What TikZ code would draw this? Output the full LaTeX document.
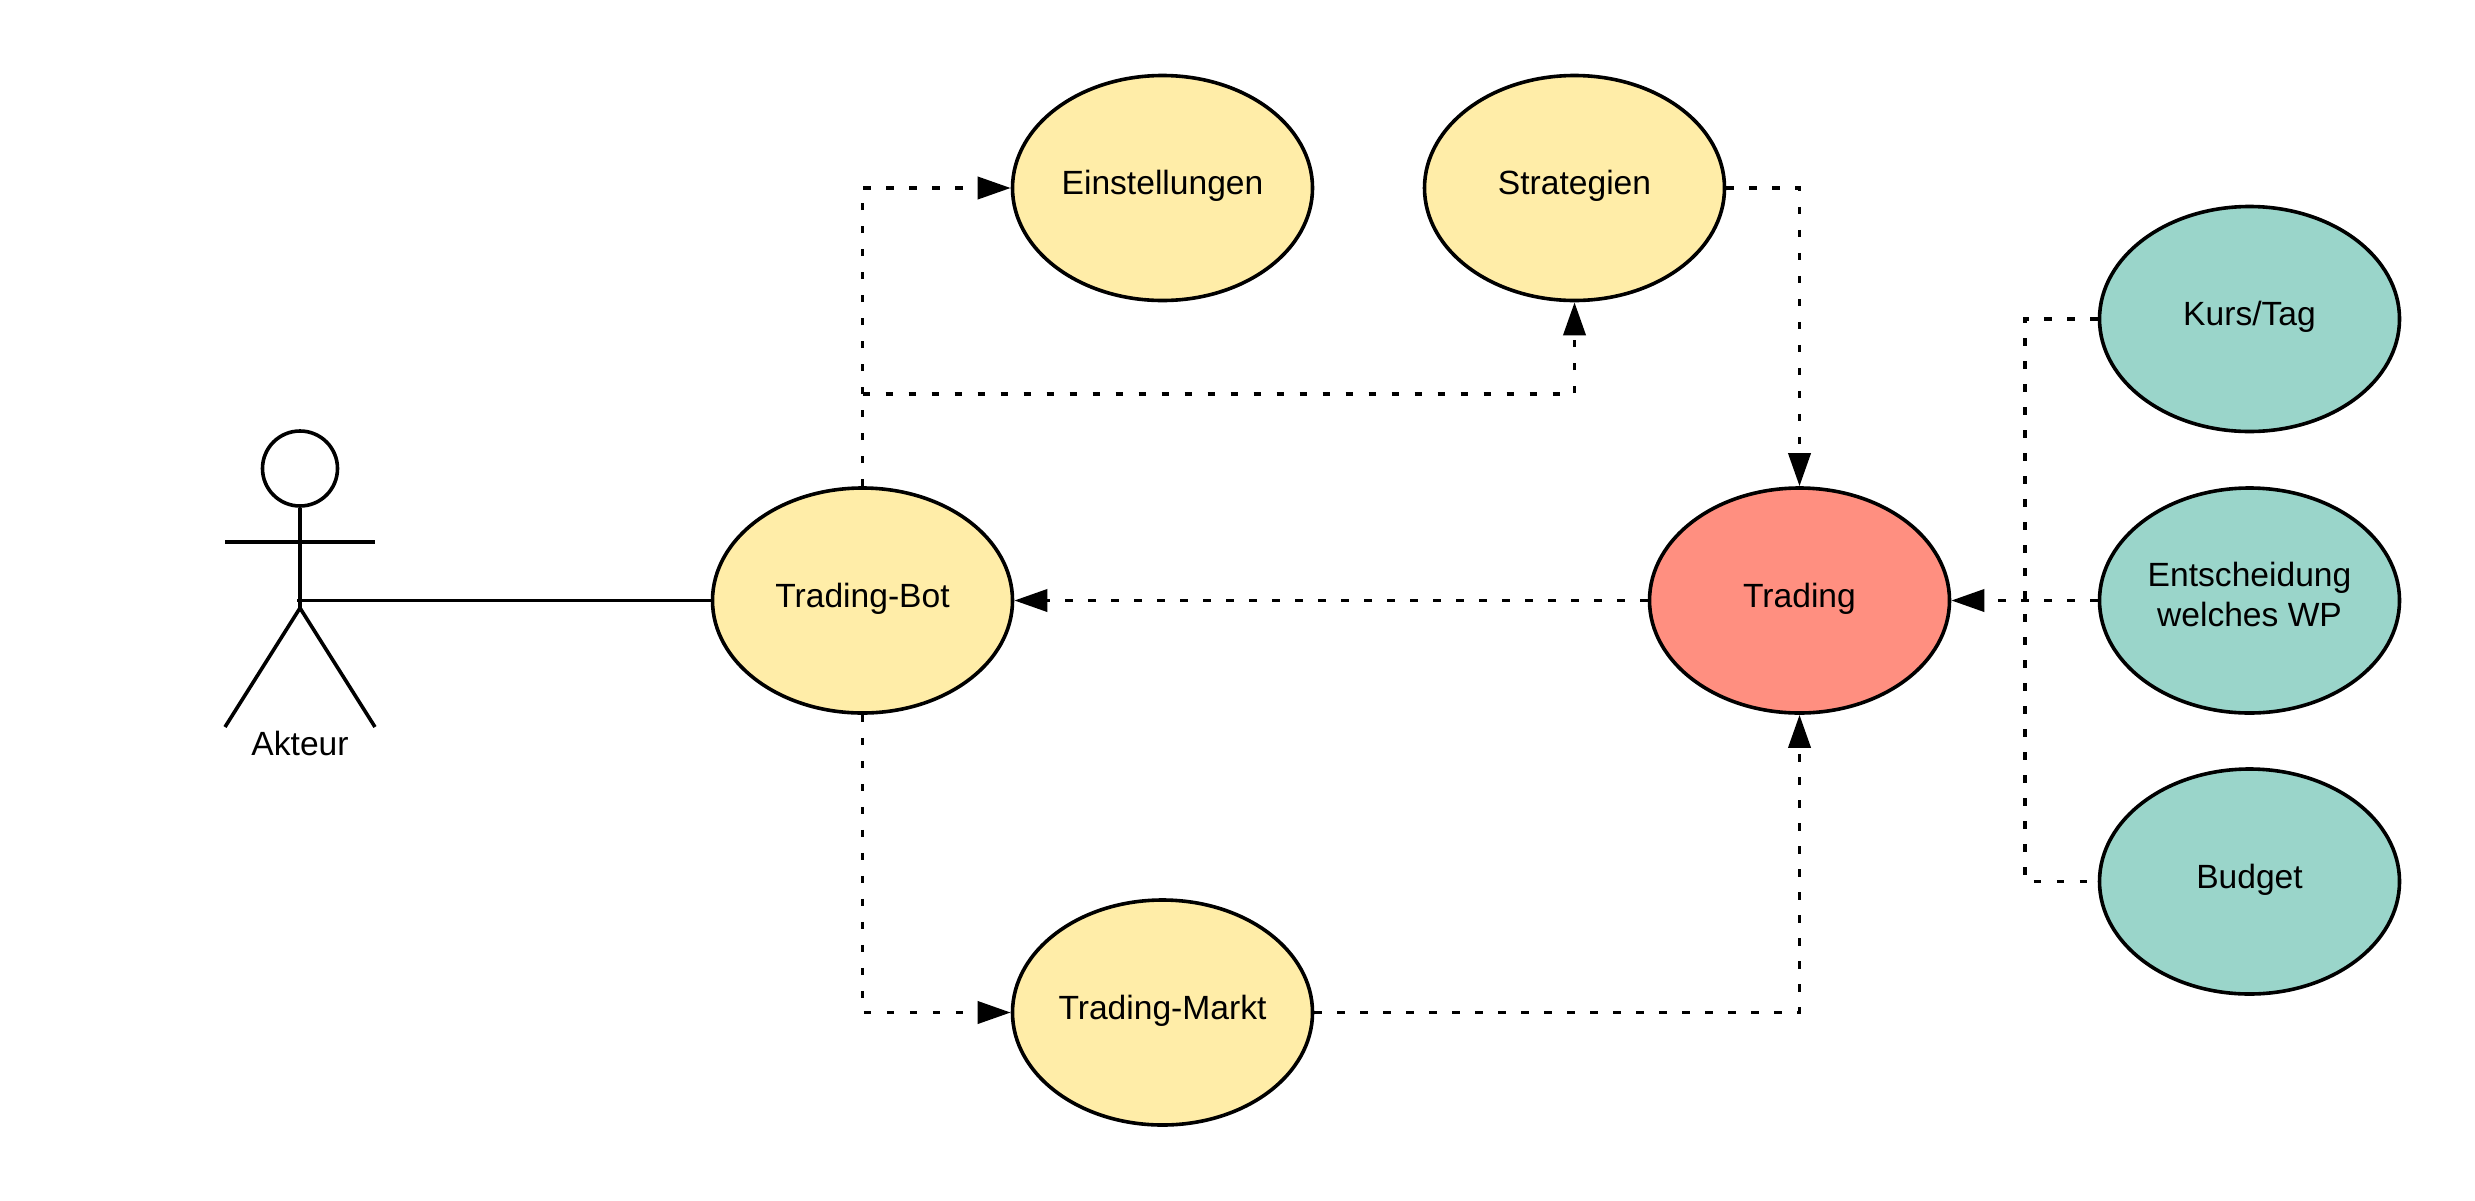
\documentclass[tikz,border=0pt]{standalone}
\usepackage{fontspec}
\setmainfont{Liberation Sans}
\usetikzlibrary{shapes.geometric,arrows.meta}
\definecolor{yel}{HTML}{FFEDA8}
\definecolor{red2}{HTML}{FF8F80}
\definecolor{teal2}{HTML}{9AD5CA}
\tikzset{
 uc/.style={ellipse,draw=black,line width=3.6pt,inner sep=0pt,minimum width=300pt,minimum height=225pt},
 txt/.style={font=\fontsize{33.6}{40}\selectfont,align=center,yshift=2pt,inner sep=0pt},
 txttwo/.style={txt,yshift=4.5pt},
 dep/.style={line width=3.8pt,dash pattern=on 7.5pt off 15.5pt},
 arr/.style={dep,-{Triangle[length=33pt,width=22pt]},shorten >=0pt},
 solidl/.style={line width=3.6pt,line cap=butt}
}
\begin{document}
\begin{tikzpicture}[x=1pt,y=-1pt]
\useasboundingbox (0,0) rectangle (2475,1200);
\fill[white] (0,0) rectangle (2475,1200);
\coordinate (botEin) at (862.5,188);
\coordinate (branch) at (862.5,394);
\coordinate (strB) at (1574.5,394);
\coordinate (strT) at (1799.5,188);
\coordinate (botM) at (862.5,1012.5);
\coordinate (mT) at (1799.5,1012.5);
\coordinate (kE) at (2025,319);
\coordinate (bE) at (2025,881.5);
\node[uc,fill=yel] (bot) at (862.5,600.5) {};
\node[uc,fill=yel] (ein) at (1162.5,188) {};
\node[uc,fill=yel] (str) at (1574.5,188) {};
\node[uc,fill=yel] (mkt) at (1162.5,1012.5) {};
\node[uc,fill=red2] (trd) at (1799.5,600.5) {};
\node[uc,fill=teal2] (kurs) at (2249.5,319) {};
\node[uc,fill=teal2] (ent) at (2249.5,600.5) {};
\node[uc,fill=teal2] (bud) at (2249.5,881.5) {};
\node[txt] (tbot) at (bot) {Trading-Bot};
\node[txt] (tein) at (ein) {Einstellungen};
\node[txt] (tstr) at (str) {Strategien};
\node[txt] (tmkt) at (mkt) {Trading-Markt};
\node[txt] (ttrd) at (trd) {Trading};
\node[txt] (tkurs) at (kurs) {Kurs/Tag};
\node[txttwo] (tent) at (ent) {Entscheidung\\welches WP};
\node[txt] (tbud) at (bud) {Budget};
% actor
\node[circle,draw=black,line width=3.6pt,inner sep=0pt,minimum size=75pt] (head) at (300,468.5) {};
\coordinate (hip) at (300,608);
\coordinate (armL) at (225,542);
\coordinate (armR) at (375,542);
\coordinate (legL) at (225,727);
\coordinate (legR) at (375,727);
\coordinate (neck) at (297,600.5);
\draw[solidl] (head.south) -- (hip);
\draw[solidl] (armL) -- (armR);
\draw[solidl] (legL) -- (hip) -- (legR);
\node[font=\fontsize{33.6}{40}\selectfont,inner sep=0pt] (akt) at (300,743.5) {Akteur};
\draw[solidl] (neck) -- (bot.west);
% dashed
\draw[arr] (bot.north) -- (botEin) -- (ein.west);
\draw[arr] (branch) -- (strB) -- (str.south);
\draw[arr] (str.east) -- (strT) -- (trd.north);
\draw[arr] (trd.west) -- (bot.east);
\draw[arr] (bot.south) -- (botM) -- (mkt.west);
\draw[arr] (mkt.east) -- (mT) -- (trd.south);
\draw[arr] (ent.west) -- (trd.east);
\draw[dep] (kurs.west) -- (kE) -- (bE) -- (bud.west);
\end{tikzpicture}
\end{document}
